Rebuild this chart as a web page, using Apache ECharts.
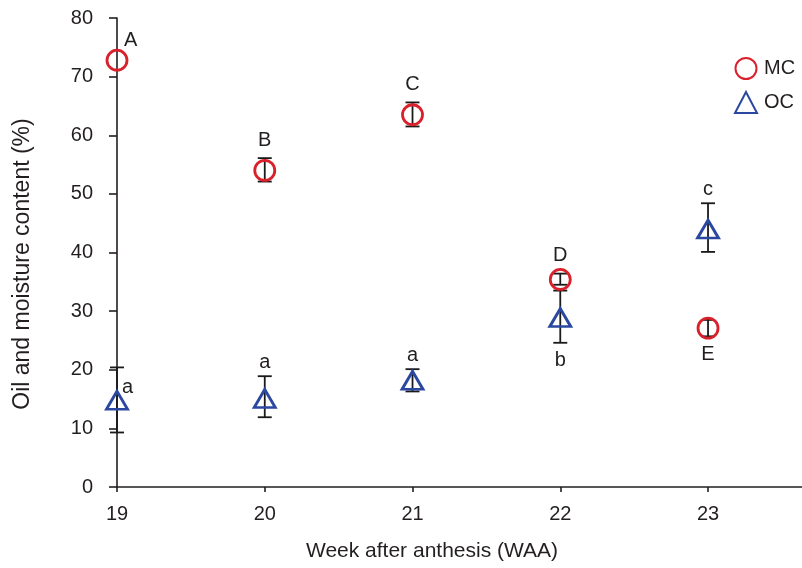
<!DOCTYPE html>
<html>
<head>
<meta charset="utf-8">
<script src="https://cdn.jsdelivr.net/npm/echarts@6/dist/echarts.min.js"></script>
<style>
html,body{margin:0;padding:0;background:#fff;}
#chart{width:802px;height:568px;}
</style>
</head>
<body>
<div id="chart"></div>
<script>
// ---- data ----
const weeks = [19, 20, 21, 22, 23];
const xTicks = [19, 20, 21, 22, 23];
const mcMean = [72.8, 54.0, 63.5, 35.4, 27.1];
const mcLow  = [72.8, 52.1, 61.5, 34.5, 25.7];
const mcHigh = [72.8, 56.1, 65.6, 36.4, 28.5];
const ocMean = [14.8, 15.1, 18.2, 28.9, 44.0];
const ocLow  = [9.3, 11.9, 16.3, 24.6, 40.1];
const ocHigh = [20.4, 18.9, 20.1, 33.5, 48.4];
const mcLetters = ['A', 'B', 'C', 'D', 'E'];
const ocLetters = ['a', 'a', 'a', 'b', 'c'];
const mcSide = ['corner', 'top', 'top', 'top', 'bottom'];
const ocSide = ['right', 'top', 'top', 'bottom', 'top'];

const FONT = '"Liberation Sans", Arial, Helvetica, sans-serif';
const TXT = '#231f20';
const RED = '#d9212c';
const BLUE = '#2b48a0';

function rows(mean, low, high, letters, side) {
  return weeks.map((w, i) => [w, mean[i], low[i], high[i], letters[i], side[i]]);
}
const mcRows = rows(mcMean, mcLow, mcHigh, mcLetters, mcSide);
const ocRows = rows(ocMean, ocLow, ocHigh, ocLetters, ocSide);

function errRender(params, api) {
  const x = api.value(0);
  if (api.value(2) === api.value(3)) return null;
  const lo = api.coord([x, api.value(2)]);
  const hi = api.coord([x, api.value(3)]);
  const hw = 7;
  const st = { stroke: '#1a1a1a', lineWidth: 1.8 };
  return {
    type: 'group',
    children: [
      { type: 'line', shape: { x1: hi[0], y1: hi[1], x2: lo[0], y2: lo[1] }, style: st },
      { type: 'line', shape: { x1: hi[0] - hw, y1: hi[1], x2: hi[0] + hw, y2: hi[1] }, style: st },
      { type: 'line', shape: { x1: lo[0] - hw, y1: lo[1], x2: lo[0] + hw, y2: lo[1] }, style: st }
    ]
  };
}

function letterRender(topGap) {
  return function (params, api) {
    const x = api.value(0);
    const side = api.value(5);
    const txt = api.value(4);
    let p, align = 'center', va = 'bottom', dx = 0, dy = 0;
    if (side === 'top') { p = api.coord([x, api.value(3)]); dy = -topGap; }
    else if (side === 'bottom') { p = api.coord([x, api.value(2)]); va = 'top'; dy = 8; }
    else if (side === 'corner') { p = api.coord([x, api.value(1)]); align = 'left'; dx = 7; dy = -10; }
    else { p = api.coord([x, api.value(1)]); align = 'left'; dx = 5; dy = -3; }
    return {
      type: 'text',
      x: p[0] + dx, y: p[1] + dy,
      style: { text: txt, fill: TXT, font: '20px ' + FONT, align: align, verticalAlign: va }
    };
  };
}

const chart = echarts.init(document.getElementById('chart'), null, { renderer: 'canvas' });
chart.setOption({
  animation: false,
  backgroundColor: '#fff',
  grid: { left: 117, right: 0, top: 18, bottom: 81, containLabel: false },
  legend: {
    orient: 'vertical',
    left: 734, top: 57, padding: 0,
    itemWidth: 22, itemHeight: 21, itemGap: 11,
    textStyle: { fontFamily: FONT, fontSize: 20, color: TXT, padding: [0, 0, 0, 2] },
    data: ['MC', 'OC']
  },
  xAxis: {
    type: 'value', min: 19, max: 23.636, interval: 1,
    splitLine: { show: false },
    axisLine: { lineStyle: { color: '#231f20', width: 1.6 } },
    axisTick: { show: true, inside: false, length: 5, customValues: xTicks, lineStyle: { color: '#231f20', width: 1.6 } },
    axisLabel: { customValues: xTicks, margin: 17, fontFamily: FONT, fontSize: 20, color: TXT }
  },
  yAxis: {
    type: 'value', min: 0, max: 80, interval: 10,
    splitLine: { show: false },
    axisLine: { show: true, lineStyle: { color: '#231f20', width: 1.6 } },
    axisTick: { show: true, inside: false, length: 8, lineStyle: { color: '#231f20', width: 1.6 } },
    axisLabel: { margin: 24, fontFamily: FONT, fontSize: 20, color: TXT }
  },
  graphic: [
    { type: 'text', x: 432, y: 551, style: { text: 'Week after anthesis (WAA)', font: '21px ' + FONT, fill: TXT, align: 'center', verticalAlign: 'middle' } },
    { type: 'text', x: 23, y: 264, rotation: Math.PI / 2, style: { text: 'Oil and moisture content (%)', font: '23px ' + FONT, fill: TXT, align: 'center', verticalAlign: 'middle' } }
  ],
  series: [
    { type: 'custom', name: 'mcErr', data: mcRows, renderItem: errRender, z: 3, silent: true },
    { type: 'custom', name: 'ocErr', data: ocRows, renderItem: errRender, z: 3, silent: true },
    {
      type: 'scatter', name: 'MC', data: mcRows.map(r => [r[0], r[1]]),
      symbol: 'circle', symbolSize: 20, z: 4,
      itemStyle: { color: 'rgba(255,255,255,0)', borderColor: RED, borderWidth: 2.8, opacity: 1 }
    },
    {
      type: 'scatter', name: 'OC', data: ocRows.map(r => [r[0], r[1]]),
      symbol: 'triangle', symbolSize: [21, 18], z: 4,
      itemStyle: { color: 'rgba(255,255,255,0)', borderColor: BLUE, borderWidth: 2.8, opacity: 1 }
    },
    { type: 'custom', name: 'mcLab', data: mcRows, renderItem: letterRender(8), z: 5, silent: true },
    { type: 'custom', name: 'ocLab', data: ocRows, renderItem: letterRender(4), z: 5, silent: true }
  ]
});
</script>
</body>
</html>
